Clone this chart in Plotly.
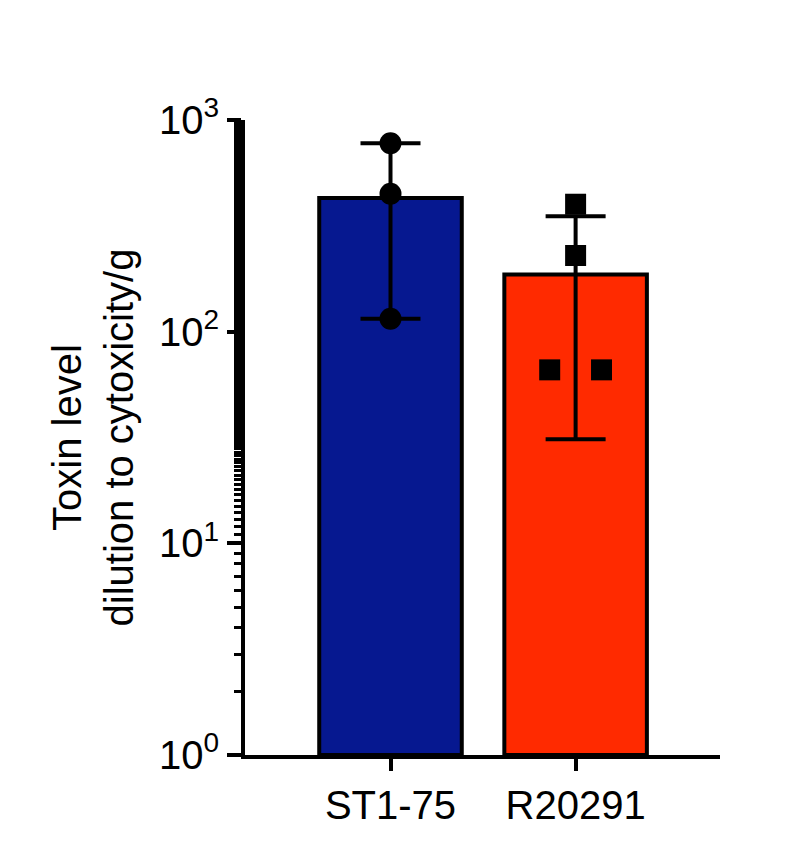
import plotly.graph_objects as go

categories = ["ST1-75", "R20291"]
bar_means = [427, 185]
err_upper = [776, 351]
err_lower = [115, 31]
points_st = [776, 448, 115]
points_r = [400, 229, 66, 66]
points_r_x = [0, 0, -0.14, 0.14]
ytick_vals = [1, 10, 100, 1000]
ytick_text = ["10<sup>0</sup>", "10<sup>1</sup>", "10<sup>2</sup>", "10<sup>3</sup>"]
colors = ["#061890", "#FF2A00"]

xpos = [0, 1]
fig = go.Figure()
fig.add_trace(go.Bar(x=xpos, y=bar_means, width=0.77, marker=dict(color=colors, line=dict(color="black", width=4)), base=1))
fig.add_trace(go.Scatter(x=xpos, y=bar_means, mode="markers", marker=dict(size=1, color="rgba(0,0,0,0)"),
    error_y=dict(type="data", symmetric=False,
                 array=[u - m for u, m in zip(err_upper, bar_means)],
                 arrayminus=[m - l for m, l in zip(bar_means, err_lower)],
                 color="black", thickness=4, width=30)))
fig.add_trace(go.Scatter(x=[0]*3, y=points_st, mode="markers", marker=dict(symbol="circle", size=22, color="black")))
fig.add_trace(go.Scatter(x=[1 + d for d in points_r_x], y=points_r, mode="markers", marker=dict(symbol="square", size=21, color="black")))

fig.update_layout(width=790, height=845, margin=dict(l=237, r=78, t=112, b=98),
    plot_bgcolor="white", paper_bgcolor="white", showlegend=False,
    font=dict(family="Liberation Sans, Arial", size=40, color="black"))
fig.update_xaxes(range=[-0.786, 1.78], tickvals=xpos, ticktext=categories, showline=True, linecolor="black", linewidth=4,
    ticks="outside", ticklen=12, tickwidth=4, tickcolor="black", showgrid=False, zeroline=False, tickfont=dict(size=40))
fig.update_yaxes(type="log", range=[0, 3], tickvals=ytick_vals, ticktext=ytick_text, showline=True, linecolor="black", linewidth=4,
    ticks="outside", ticklen=14, tickwidth=4, tickcolor="black", showgrid=False, zeroline=False, tickfont=dict(size=40),
    minor=dict(ticks="outside", ticklen=7, tickwidth=3, tickcolor="black", showgrid=False),
    title=dict(text="Toxin level<br>dilution to cytoxicity/g", font=dict(size=40), standoff=14))
fig.write_html("out.html")
